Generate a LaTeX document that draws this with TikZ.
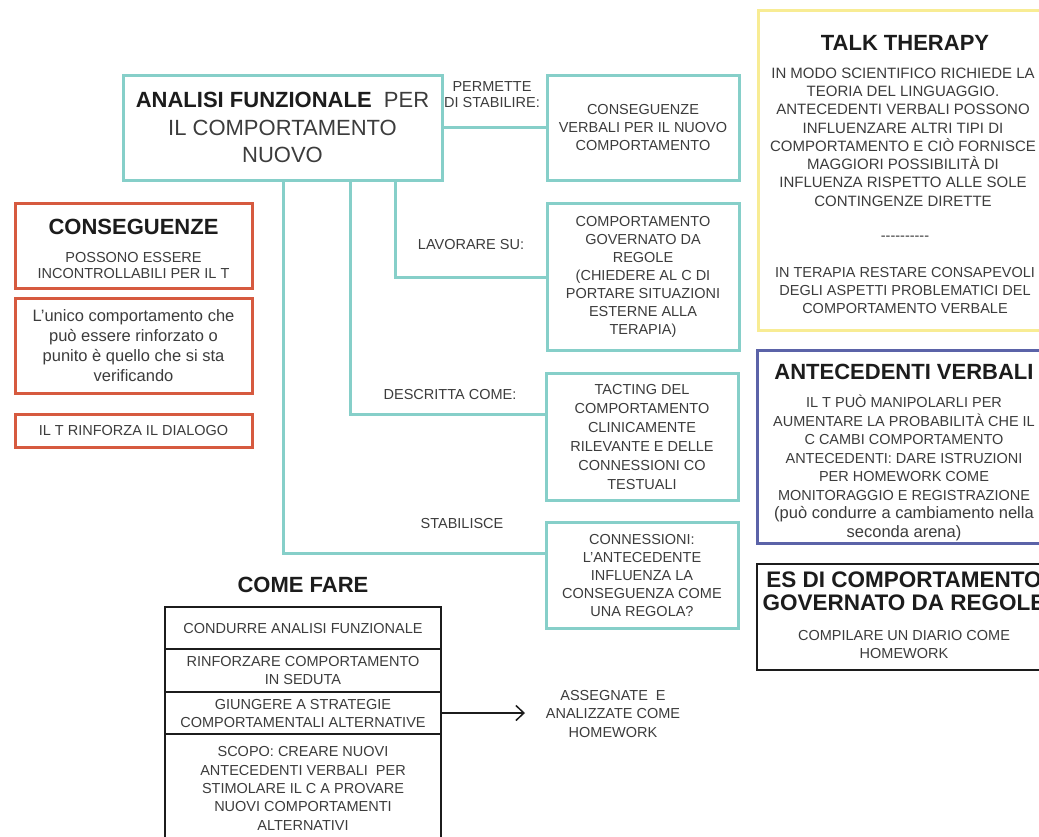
\documentclass[tikz,border=0pt]{standalone}
\usepackage{fontspec}
\setmainfont{Liberation Sans}
\usetikzlibrary{arrows.meta}
\definecolor{cyanc}{HTML}{86CFC9}
\definecolor{redc}{HTML}{D65A3F}
\definecolor{yelc}{HTML}{F8EC94}
\definecolor{bluec}{HTML}{5B63A8}
\definecolor{txt}{HTML}{3C3C3C}
\definecolor{ttl}{HTML}{1C1C1C}
\begin{document}
\begin{tikzpicture}[x=1pt,y=-1pt,
 every node/.style={inner sep=0pt, outer sep=0pt},
 body/.style={text=txt, align=center, font=\fontsize{14.5}{18}\selectfont},
 ttlfont/.style={text=ttl, align=center, font=\bfseries\fontsize{22}{26}\selectfont},
 cybox/.style={draw=cyanc, line width=3pt, minimum width=192pt, body},
 redbox/.style={draw=redc, line width=3pt, minimum width=237pt, body},
 cfcell/.style={draw=ttl, line width=2pt, minimum width=276pt, body},
 cyline/.style={draw=cyanc, line width=3pt},
 arr/.style={draw=ttl, line width=1.5pt, -{Straight Barb[length=8pt,width=15pt]}},
]
\useasboundingbox (0,0) rectangle (1039,836);
\fill[white] (0,0) rectangle (1039,836);
\clip (0,0) rectangle (1039,836);

% main node
\node[cybox, minimum width=319pt, minimum height=105pt, font=\fontsize{22}{27.5}\selectfont, text=txt] (main) at (282.5,127.5)
  {{\color{ttl}\bfseries ANALISI FUNZIONALE}\ \ PER\\IL COMPORTAMENTO\\NUOVO};

% cyan boxes
\node[cybox, minimum height=105pt] (b1) at (643,127.5) {CONSEGUENZE\\VERBALI PER IL NUOVO\\COMPORTAMENTO};
\node[cybox, minimum height=147pt] (b2) at (643,276.5) {COMPORTAMENTO\\GOVERNATO DA\\REGOLE\\(CHIEDERE AL C DI\\PORTARE SITUAZIONI\\ESTERNE ALLA\\TERAPIA)};
\node[cybox, minimum height=127pt, font=\fontsize{14.5}{19}\selectfont] (b3) at (642,436.5) {TACTING DEL\\COMPORTAMENTO\\CLINICAMENTE\\RILEVANTE E DELLE\\CONNESSIONI CO\\TESTUALI};
\node[cybox, minimum height=106pt] (b4) at (642,575) {CONNESSIONI:\\L'ANTECEDENTE\\INFLUENZA LA\\CONSEGUENZA COME\\UNA REGOLA?};

% connectors
\draw[cyline] (main.east) -- (b1.west);
\draw[cyline] (main.south -| 395,0) |- (b2.west |- 0,277);
\draw[cyline] (main.south -| 350,0) |- (b3.west |- 0,414);
\draw[cyline] (main.south -| 283,0) |- (b4.west |- 0,553);

% connector labels
\node[body, font=\fontsize{14.5}{15.5}\selectfont] (l0) at (492,94.5) {PERMETTE\\DI STABILIRE:};
\node[body] (l1) at (471,245) {LAVORARE SU:};
\node[body] (l2) at (450,395) {DESCRITTA COME:};
\node[body] (l3) at (462,523) {STABILISCE};

% red boxes
\node[redbox, minimum height=85pt] (ra) at (133.5,245.5) {};
\node[ttlfont] (raT) at (133.5,227) {CONSEGUENZE};
\node[body, font=\fontsize{14.5}{15.5}\selectfont] (raB) at (133.5,265.5) {POSSONO ESSERE\\INCONTROLLABILI PER IL T};
\node[redbox, minimum height=95pt, font=\fontsize{16.5}{20}\selectfont] (rb) at (133.5,345.5) {L'unico comportamento che\\può essere rinforzato o\\punito è quello che si sta\\verificando};
\node[redbox, minimum height=33pt] (rc) at (133.5,430.5) {IL T RINFORZA IL DIALOGO};

% talk therapy
\node[draw=yelc, line width=3pt, minimum width=294pt, minimum height=320pt] (tt) at (905,170) {};
\node[ttlfont] (ttT) at (905,43) {TALK THERAPY};
\node[body, font=\fontsize{15}{18.3}\selectfont] (ttB) at (903,137) {IN MODO SCIENTIFICO RICHIEDE LA\\TEORIA DEL LINGUAGGIO.\\ANTECEDENTI VERBALI POSSONO\\INFLUENZARE ALTRI TIPI DI\\COMPORTAMENTO E CIÒ FORNISCE\\MAGGIORI POSSIBILITÀ DI\\INFLUENZA RISPETTO ALLE SOLE\\CONTINGENZE DIRETTE};
\node[body] (ttD) at (905,238) {-{}-{}-{}-{}-{}-{}-{}-{}-{}-};
\node[body, font=\fontsize{14.5}{18}\selectfont] (ttB2) at (905,291) {IN TERAPIA RESTARE CONSAPEVOLI\\DEGLI ASPETTI PROBLEMATICI DEL\\COMPORTAMENTO VERBALE};

% antecedenti verbali
\node[draw=bluec, line width=3pt, minimum width=294pt, minimum height=193pt] (av) at (904,446.5) {};
\node[ttlfont] (avT) at (904,372) {ANTECEDENTI VERBALI};
\node[body, font=\fontsize{14.5}{18.5}\selectfont] (avB) at (904,468) {IL T PUÒ MANIPOLARLI PER\\AUMENTARE LA PROBABILITÀ CHE IL\\C CAMBI COMPORTAMENTO\\ANTECEDENTI: DARE ISTRUZIONI\\PER HOMEWORK COME\\MONITORAGGIO E REGISTRAZIONE\\{\fontsize{16.5}{18.5}\selectfont (può condurre a cambiamento nella}\\{\fontsize{16.5}{18.5}\selectfont seconda arena)}};

% es di comportamento
\node[draw=ttl, line width=2pt, minimum width=294pt, minimum height=106pt] (es) at (904,617) {};
\node[ttlfont, font=\bfseries\fontsize{22.5}{23.3}\selectfont] (esT) at (904,591.5) {ES DI COMPORTAMENTO\\GOVERNATO DA REGOLE};
\node[body] (esB) at (904,644) {COMPILARE UN DIARIO COME\\HOMEWORK};

% come fare
\node[ttlfont] (cfT) at (303,585) {COME FARE};
\node[cfcell, minimum height=42pt] (c1) at (303,628) {CONDURRE ANALISI FUNZIONALE};
\node[cfcell, minimum height=43pt] (c2) at (303,670.5) {RINFORZARE COMPORTAMENTO\\IN SEDUTA};
\node[cfcell, minimum height=42pt] (c3) at (303,713) {GIUNGERE A STRATEGIE\\COMPORTAMENTALI ALTERNATIVE};
\node[cfcell, minimum height=109pt, font=\fontsize{14.5}{18.3}\selectfont] (c4) at (303,788.5) {SCOPO: CREARE NUOVI\\ANTECEDENTI VERBALI\ \ PER\\STIMOLARE IL C A PROVARE\\NUOVI COMPORTAMENTI\\ALTERNATIVI};

\coordinate (ae) at (525,713);
\draw[arr] (c3.east) -- (ae);
\node[body, font=\fontsize{14.5}{18.5}\selectfont] (asg) at (613,713.5) {ASSEGNATE\ \ E\\ANALIZZATE COME\\HOMEWORK};
\end{tikzpicture}
\end{document}
